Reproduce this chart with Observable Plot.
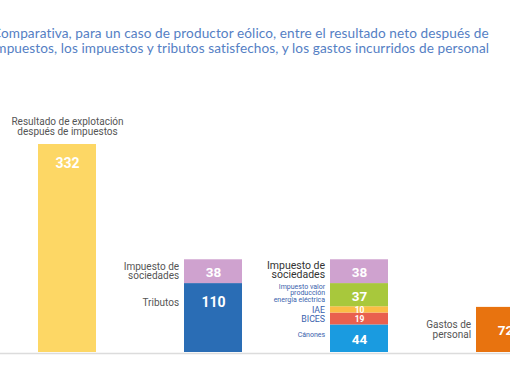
<!DOCTYPE html>
<html><head><meta charset="utf-8">
<script src="https://cdn.jsdelivr.net/npm/d3@7"></script>
<script src="https://cdn.jsdelivr.net/npm/@observablehq/plot@0.6"></script>
<style>
html,body{margin:0;padding:0;background:#fff;overflow:hidden;width:510px;height:382px;}
#wrap{position:relative;width:510px;height:382px;overflow:hidden;}
#title{position:absolute;left:-8px;top:26px;font-family:Lato,sans-serif;font-size:13.6px;line-height:15px;color:#5580c4;white-space:nowrap;letter-spacing:0.1px;}
#chart svg{overflow:hidden;display:block;}
</style></head>
<body><div id="wrap"><div id="title">Comparativa, para un caso de productor eólico, entre el resultado neto después de<br>impuestos, los impuestos y tributos satisfechos, y los gastos incurridos de personal</div><div id="chart"></div></div>
<script>
// Data
const groups = ["Resultado", "Tributos", "Desglose", "Personal"];
const segGroup = ["Resultado", "Tributos", "Tributos", "Desglose", "Desglose", "Desglose", "Desglose", "Desglose", "Personal"];
const segLabel = [
  "Resultado de explotación\ndespués de impuestos",
  "Tributos",
  "Impuesto de\nsociedades",
  "Cánones",
  "BICES",
  "IAE",
  "Impuesto valor\nproducción\nenergía eléctrica",
  "Impuesto de\nsociedades",
  "Gastos de\npersonal"
];
const segValue = [332, 110, 38, 44, 19, 10, 37, 38, 72];
const palette = ["#fdd765", "#2a6db5", "#cfa2cf", "#1a9be0", "#e9604e", "#fbbd44", "#a8c83c", "#cfa2cf", "#e8730f"];

// stack
const acc = {};
const rows = segValue.map((v, i) => {
  const g = segGroup[i];
  const y1 = acc[g] || 0;
  const y2 = y1 + v;
  acc[g] = y2;
  return {key: i, group: g, label: segLabel[i], value: v, y1, y2, mid: (y1 + y2) / 2, big: v > 100};
});

const sideRows = rows.filter(d => d.group !== "Resultado");
const smallBlue = new Set([6, 3]);
const blue = new Set([4, 5]);
const dark = new Set([7]);
const gray = sideRows.filter(d => !smallBlue.has(d.key) && !blue.has(d.key) && !dark.has(d.key));

const bw = 58.8;
const font = "Roboto, sans-serif";

const chart = Plot.plot({
  width: 510,
  height: 382,
  margin: 0,
  x: {type: "band", domain: groups, range: [-52, 624], padding: 0.6, axis: null},
  y: {domain: [0, 332], range: [352, 144], axis: null},
  color: {type: "ordinal", domain: rows.map(d => d.key), range: palette},
  style: {fontFamily: font},
  marks: [
    Plot.ruleY([0], {stroke: "#dcdcdc", strokeWidth: 1.5, dy: 1}),
    Plot.barY(rows, {x: "group", y1: "y1", y2: "y2", fill: "key", inset: 0}),
    // value labels: big segments near top
    Plot.text(rows.filter(d => d.big), {x: "group", y: "y2", text: d => String(d.value), dy: 19, fill: "white", fontSize: 14, fontWeight: "bold"}),
    Plot.text(rows.filter(d => !d.big && d.value >= 30), {x: "group", y: "mid", text: d => String(d.value), dy: 1, fill: "white", fontSize: 13.5, fontWeight: "bold"}),
    Plot.text(rows.filter(d => d.value < 30), {x: "group", y: "mid", text: d => String(d.value), dy: 0.5, fill: "white", fontSize: 8.5, fontWeight: "bold"}),
    // top label of first bar
    Plot.text(rows.filter(d => d.group === "Resultado"), {x: "group", y: "y2", text: "label", dy: -10, lineAnchor: "bottom", fill: "#555", fontSize: 10, lineHeight: 1.0}),
    // side labels
    Plot.text(gray.filter(d => d.big), {x: "group", y: "y2", text: "label", dy: 19, dx: -bw / 2 - 5, textAnchor: "end", fill: "#555", fontSize: 10, lineHeight: 0.95}),
    Plot.text(gray.filter(d => !d.big), {x: "group", y: "mid", text: "label", dx: -bw / 2 - 5, textAnchor: "end", fill: "#555", fontSize: 10, lineHeight: 0.95}),
    Plot.text(sideRows.filter(d => dark.has(d.key)), {x: "group", y: "mid", text: "label", dx: -bw / 2 - 5, dy: -1, textAnchor: "end", fill: "#333", fontSize: 10.5, lineHeight: 0.9}),
    Plot.text(sideRows.filter(d => blue.has(d.key)), {x: "group", y: "mid", text: "label", dx: -bw / 2 - 5, textAnchor: "end", fill: "#3a62ad", fontSize: 8.8}),
    Plot.text(sideRows.filter(d => smallBlue.has(d.key) && d.value < 40), {x: "group", y: "mid", text: "label", dx: -bw / 2 - 5, dy: -2, textAnchor: "end", fill: "#3a62ad", fontSize: 7, lineHeight: 0.95}),
    Plot.text(sideRows.filter(d => smallBlue.has(d.key) && d.value >= 40), {x: "group", y: "mid", text: "label", dx: -bw / 2 - 5, dy: -4, textAnchor: "end", fill: "#3a62ad", fontSize: 7})
  ]
});
document.getElementById("chart").appendChild(chart);
</script>
</body></html>
